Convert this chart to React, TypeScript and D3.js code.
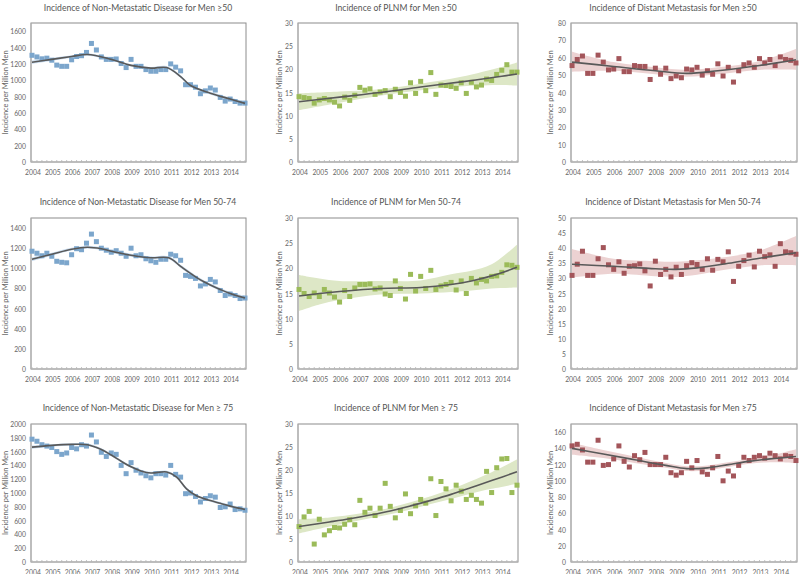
import React from "react";
import * as d3 from "d3";

// ---------- data ----------
const yearLabels = ["2004","2005","2006","2007","2008","2009","2010","2011","2012","2013","2014"];

const titles = [
  "Incidence of Non-Metastatic Disease for Men \u226550",
  "Incidence of PLNM for Men \u226550",
  "Incidence of Distant Metastasis for Men \u226550",
  "Incidence of Non-Metastatic Disease for Men 50-74",
  "Incidence of PLNM for Men 50-74",
  "Incidence of Distant Metastasis for Men 50-74",
  "Incidence of Non-Metastatic Disease for Men \u2265 75",
  "Incidence of PLNM for Men \u2265 75",
  "Incidence of Distant Metastasis for Men \u226575",
];

const yAxisLabel = "Incidence per Million Men";

// quarterly observations 2004 Q1 .. 2014 Q4
const nmAll = [1305,1285,1262,1270,1245,1185,1170,1170,1250,1290,1300,1340,1450,1370,1285,1255,1255,1260,1205,1155,1255,1170,1170,1130,1110,1110,1130,1130,1200,1160,1115,945,945,915,835,870,905,880,790,745,770,740,720,720];
const plAll = [14.1,13.9,13.7,12.7,13.4,13.7,13.4,12.9,12.1,14.0,13.3,14.4,16.1,15.5,15.8,14.6,15.1,15.4,14.1,15.7,15.0,14.2,17.1,14.8,17.4,15.4,19.3,14.6,16.6,16.5,16.3,15.9,17.1,14.8,17.2,16.2,16.6,17.9,17.6,18.9,19.8,21.0,19.4,19.4];
const dmAll = [55.5,59,61,51,51,61.5,57.5,53,53.5,59.5,52,52,55.5,55,55,47.5,54,50.5,54,48,49.5,48.5,53.5,53,54.5,50,52.5,50.5,56.5,49.5,54.5,46,52.5,56,57,54.5,59.5,57,59,55.5,60.5,59,58.5,57];
const nmMid = [1170,1150,1125,1150,1120,1070,1060,1055,1135,1195,1185,1250,1340,1265,1200,1180,1160,1175,1150,1120,1200,1125,1135,1095,1075,1060,1090,1090,1140,1125,1080,930,920,900,825,845,890,865,780,730,745,730,700,705];
const plMid = [15.8,15.0,14.4,15.1,14.4,15.8,15.1,14.3,13.3,15.6,14.4,16.1,16.8,16.8,16.9,15.9,16.1,14.9,14.6,17.5,16.0,13.9,18.8,15.5,18.4,16.0,19.6,15.8,16.5,16.8,17.2,15.7,17.5,15.0,18.0,17.1,17.8,17.5,18.4,18.5,19.2,20.7,20.6,20.2];
const dmMid = [31,34.7,39,31,31,36.5,40.2,34.5,33,35.5,31.7,34,34.2,34.8,32.5,27.5,35.7,31.3,33,30.5,33.7,31.3,34.2,35.2,34.6,33,36.5,32.7,36.3,35.5,38.8,29,34,35.9,37.7,33.8,39,37.2,37.8,34,41.5,38.8,38.5,38];
const nmOld = [1780,1750,1700,1680,1660,1600,1560,1580,1660,1640,1700,1680,1840,1740,1590,1530,1580,1560,1400,1280,1440,1330,1290,1250,1220,1280,1280,1260,1400,1270,1230,990,1000,950,870,920,960,940,790,800,840,760,770,750];
const plOld = [7.7,9.8,11.0,3.9,9.3,5.9,6.8,7.5,7.4,8.2,9.2,8.1,13.4,10.8,11.7,10.1,11.7,17.1,12.1,9.6,11.2,14.8,10.5,12.2,13.6,12.8,18.1,10.1,17.5,15.9,13.3,16.7,15.4,13.6,14.5,13.6,12.8,19.7,15.1,20.5,22.4,22.5,15.1,16.7];
const dmOld = [143,145,138,123,123,150,119,120,127,143,124,117,131,126,135,120,120,120,129,110,107,110,124,116,125,111,108,116,130,100,112,106,119,129,125,129,131,128,134,131,127,131,130,125];

// fitted trend (knots in decimal years) with confidence band
const nmAllFitX = [2004,2005,2006,2006.8,2008,2009,2010,2010.8,2011.5,2012,2013,2014,2014.75];
const nmAllFit  = [1220,1255,1290,1315,1255,1182,1148,1155,1045,935,842,770,717];
const nmAllLo   = [1200,1238,1274,1299,1240,1167,1133,1139,1028,918,826,752,697];
const nmAllHi   = [1240,1272,1306,1331,1270,1197,1163,1171,1062,952,858,788,737];

const plAllFitX = [2004,2006,2008,2010,2012,2014,2014.75];
const plAllFit  = [13.0,14.0,15.0,16.2,17.3,18.5,19.0];
const plAllLo   = [11.2,12.8,14.3,15.5,16.3,16.6,16.5];
const plAllHi   = [14.8,15.2,15.7,16.9,18.4,20.5,21.5];

const dmAllFitX = [2004,2006,2008,2009.5,2011,2013,2014.75];
const dmAllFit  = [57.5,55.0,52.5,51.0,52.5,55.5,58.8];
const dmAllLo   = [52.0,52.5,50.5,49.0,50.5,53.0,53.0];
const dmAllHi   = [63.5,57.5,54.5,53.0,54.5,58.0,65.0];

const nmMidFitX = [2004,2005,2006,2006.8,2007.5,2008,2009,2010,2010.9,2011.5,2012,2012.5,2013,2013.5,2014,2014.75];
const nmMidFit  = [1090,1140,1190,1210,1195,1170,1130,1105,1105,1020,950,885,835,790,750,705];
const nmMidLo   = [1072,1125,1176,1196,1181,1156,1116,1091,1090,1004,934,869,820,775,733,686];
const nmMidHi   = [1108,1155,1204,1224,1209,1184,1144,1119,1120,1036,966,901,850,805,767,724];

const plMidFitX = [2004,2005,2006,2008,2010,2011.5,2012.5,2013.5,2014.75];
const plMidFit  = [14.5,15.0,15.4,16.0,16.2,16.8,17.5,18.5,20.2];
const plMidLo   = [11.5,12.8,13.7,14.8,15.0,15.3,15.6,16.0,16.2];
const plMidHi   = [18.7,18.0,17.5,17.5,17.6,18.8,19.5,20.8,24.7];

const dmMidFitX = [2004,2006,2008,2009,2010,2011.5,2013,2014.75];
const dmMidFit  = [34.7,34.0,33.2,33.0,33.5,35.0,36.7,38.5];
const dmMidLo   = [30.2,31.5,30.7,30.5,31.2,33.0,34.3,34.3];
const dmMidHi   = [39.7,36.5,35.7,35.5,36.0,37.2,39.2,44.0];

const nmOldFitX = [2004,2005,2006,2006.8,2007.5,2008,2008.5,2009,2009.5,2010,2010.8,2011.3,2011.8,2012.3,2013,2013.5,2014,2014.75];
const nmOldFit  = [1665,1690,1705,1700,1630,1550,1460,1380,1320,1290,1305,1230,1060,960,890,850,810,760];
const nmOldLo   = [1643,1672,1688,1683,1612,1532,1442,1362,1302,1272,1287,1211,1041,941,872,832,790,738];
const nmOldHi   = [1687,1708,1722,1717,1648,1568,1478,1398,1338,1308,1323,1249,1079,979,908,868,830,782];

const plOldFitX = [2004,2005.5,2006.5,2007.5,2008.5,2009.5,2010.5,2011.5,2012.5,2013.5,2014.75];
const plOldFit  = [7.7,8.7,9.4,10.2,11.1,12.2,13.4,14.7,16.2,17.7,19.6];
const plOldLo   = [6.2,7.7,8.6,9.5,10.4,11.4,12.6,13.7,14.9,15.9,17.0];
const plOldHi   = [9.3,9.7,10.2,10.9,11.8,13.0,14.3,15.8,17.6,19.5,22.3];

const dmOldFitX = [2004,2005.5,2007,2008.5,2009.5,2010.5,2011.5,2012.5,2013.5,2014.75];
const dmOldFit  = [140,133,126,119,115,116,120,124,127,130];
const dmOldLo   = [132,128,122,116,112,113,117,121,123,122];
const dmOldHi   = [147,138,130,122,118,119,123,127,131,139];

// y axis: max of the plot area, tick step, last tick
const yMax  = [1700,30,80,1500,30,50,2000,30,170];
const yStep = [200,5,10,200,5,5,200,5,20];
const yTop  = [1600,30,80,1400,30,50,2000,30,160];

// ---------- layout / style ----------
const BLUE = "#7ca6cc", GREEN = "#9bbb59", RED = "#a3555a";
const BAND = { blue: "#c9dcef", green: "#dde7c6", red: "#ecd2d2" };
const colLeft = [31, 298, 571];
const colRight = [246, 518, 797];
const colTitle = [138, 396, 673];
const colYLab = [5, 279, 550];
const rowTop = [23, 218, 424];
const rowBottom = [162, 369, 562];
const rowTitle = [11, 205, 411];
const FONT = "Lato, 'Open Sans', sans-serif";

const panels = [
  { obs: nmAll, fx: nmAllFitX, f: nmAllFit, lo: nmAllLo, hi: nmAllHi, color: BLUE, band: BAND.blue },
  { obs: plAll, fx: plAllFitX, f: plAllFit, lo: plAllLo, hi: plAllHi, color: GREEN, band: BAND.green },
  { obs: dmAll, fx: dmAllFitX, f: dmAllFit, lo: dmAllLo, hi: dmAllHi, color: RED, band: BAND.red },
  { obs: nmMid, fx: nmMidFitX, f: nmMidFit, lo: nmMidLo, hi: nmMidHi, color: BLUE, band: BAND.blue },
  { obs: plMid, fx: plMidFitX, f: plMidFit, lo: plMidLo, hi: plMidHi, color: GREEN, band: BAND.green },
  { obs: dmMid, fx: dmMidFitX, f: dmMidFit, lo: dmMidLo, hi: dmMidHi, color: RED, band: BAND.red },
  { obs: nmOld, fx: nmOldFitX, f: nmOldFit, lo: nmOldLo, hi: nmOldHi, color: BLUE, band: BAND.blue },
  { obs: plOld, fx: plOldFitX, f: plOldFit, lo: plOldLo, hi: plOldHi, color: GREEN, band: BAND.green },
  { obs: dmOld, fx: dmOldFitX, f: dmOldFit, lo: dmOldLo, hi: dmOldHi, color: RED, band: BAND.red },
];

function Panel({ idx }: { idx: number }) {
  const p = panels[idx];
  const c = idx % 3, r = Math.floor(idx / 3);
  const L = colLeft[c], R = colRight[c], T = rowTop[r], B = rowBottom[r];
  const x = d3.scaleLinear().domain([-0.2, 43.2]).range([L, R]);
  const xy = (yr: number) => x((yr - 2004) * 4);
  const y = d3.scaleLinear().domain([0, yMax[idx]]).range([B, T]);
  const yt = d3.range(0, yTop[idx] + 1e-9, yStep[idx]);
  const curve = d3.curveCatmullRom;
  const knots = p.fx.map((v, i) => i);
  const area = d3.area<number>().x(i => xy(p.fx[i])).y0(i => y(p.lo[i])).y1(i => y(p.hi[i])).curve(curve);
  const line = d3.line<number>().x(i => xy(p.fx[i])).y(i => y(p.f[i])).curve(curve);
  const ms = 5;
  return (
    <g>
      <text x={colTitle[c]} y={rowTitle[r]} textAnchor="middle" fontSize={8.6} fill="#555" fontFamily={FONT}>{titles[idx]}</text>
      <text transform={`translate(${colYLab[c]},${(T + B) / 2}) rotate(-90)`} textAnchor="middle" dominantBaseline="central" fontSize={7.4} fill="#666" fontFamily={FONT}>{yAxisLabel}</text>
      <rect x={L} y={T} width={R - L} height={B - T} fill="#fff" stroke="#8c8c8c" strokeWidth={1} />
      <path d={area(knots) || ""} fill={p.band} stroke="none" />
      <line x1={L} x2={L} y1={T} y2={B} stroke="#b5b5b5" />
      {d3.range(0, 44).map(i => (
        <line key={"t" + i} x1={x(i)} x2={x(i)} y1={B} y2={B - 2} stroke="#b5b5b5" strokeWidth={0.8} />
      ))}
      <line x1={L} x2={R} y1={B} y2={B} stroke="#b5b5b5" />
      {yt.map(v => (
        <text key={"y" + v} x={L - 5} y={y(v)} textAnchor="end" dominantBaseline="central" fontSize={6.8} fill="#666" fontFamily={FONT}>{v}</text>
      ))}
      {yearLabels.map((lab, i) => (
        <text key={"x" + lab} x={x(i * 4) + 1} y={B + 12.5} textAnchor="middle" fontSize={6.8} fill="#666" fontFamily={FONT}>{lab}</text>
      ))}
      {p.obs.map((v, i) => (
        <rect key={"p" + i} x={x(i) - ms / 2} y={y(v) - ms / 2} width={ms} height={ms} fill={p.color} />
      ))}
      <path d={line(knots) || ""} fill="none" stroke="#595959" strokeWidth={1.6} />
    </g>
  );
}

export default function App() {
  return (
    <svg width={800} height={574} style={{ position: "absolute", left: 0, top: 0, background: "#fff" }}>
      <rect x={0} y={0} width={800} height={574} fill="#fff" />
      {panels.map((_, i) => <Panel key={i} idx={i} />)}
    </svg>
  );
}
